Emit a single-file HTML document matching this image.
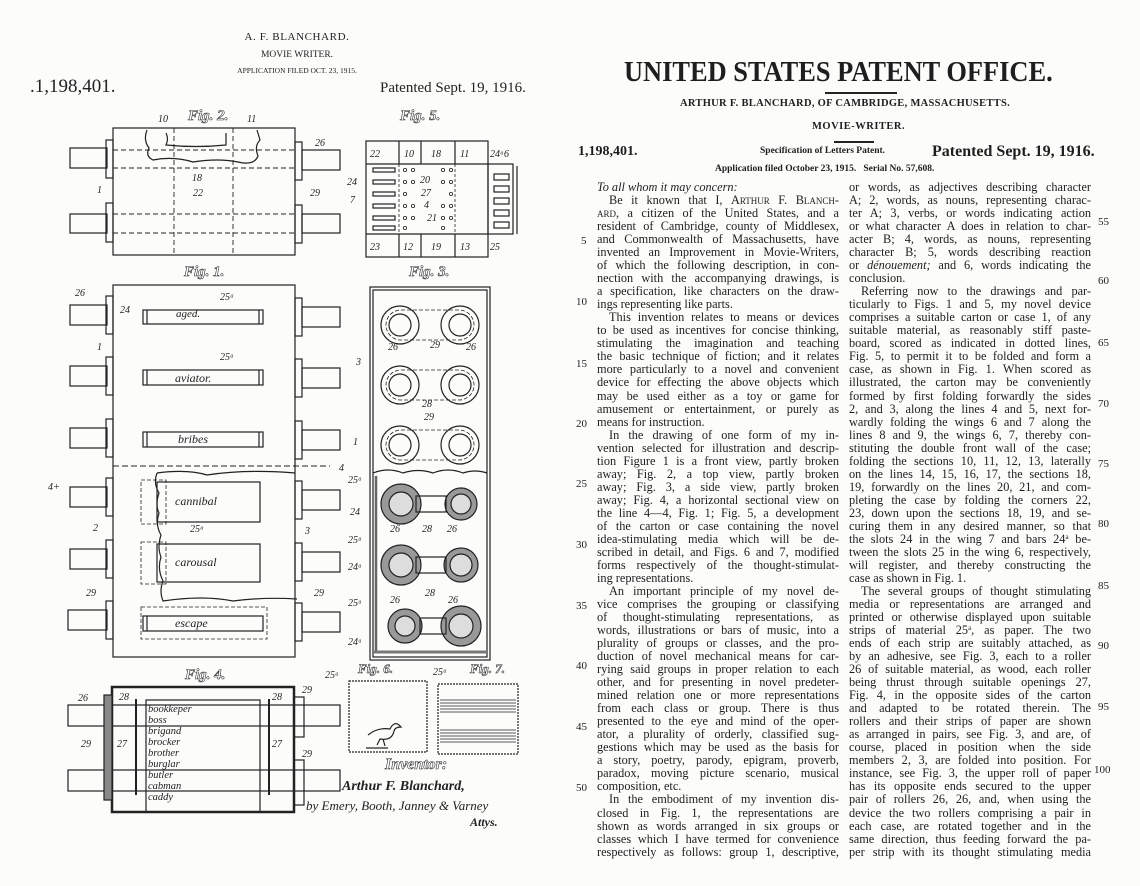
<!DOCTYPE html>
<html><head><meta charset="utf-8">
<style>
html,body{margin:0;padding:0;background:#fcfcfb;}
body{width:1140px;height:886px;position:relative;overflow:hidden;font-family:"Liberation Serif",serif;color:#1e1e1e;}
.a{position:absolute;white-space:nowrap;}
.col{position:absolute;top:181px;font-size:12.3px;line-height:13.04px;}
.col div{text-align:justify;text-align-last:justify;height:13.04px;overflow:hidden;white-space:nowrap;}
.col div.e{text-align-last:left;}
.col div.i{text-indent:12px;}
.num{position:absolute;font-size:11px;}
.sc{font-variant:small-caps;}
.sp{font-size:7px;position:relative;top:-4px;line-height:0;}
</style></head><body>

<!-- right page header -->
<div class="a" style="left:624px;top:56px;font-size:29px;font-weight:bold;transform:scaleX(0.91);transform-origin:0 0;">UNITED STATES PATENT OFFICE.</div>
<div class="a" style="left:825px;top:92px;width:72px;height:2px;background:#222;"></div>
<div class="a" style="left:680px;top:98px;font-size:10.5px;font-weight:bold;letter-spacing:0.3px;">ARTHUR F. BLANCHARD, OF CAMBRIDGE, MASSACHUSETTS.</div>
<div class="a" style="left:812px;top:121px;font-size:10.5px;font-weight:bold;letter-spacing:0.5px;">MOVIE-WRITER.</div>
<div class="a" style="left:834px;top:141px;width:40px;height:2px;background:#222;"></div>
<div class="a" style="left:578px;top:144px;font-size:14px;font-weight:bold;">1,198,401.</div>
<div class="a" style="left:760px;top:146px;font-size:9.5px;font-weight:bold;">Specification of Letters Patent.</div>
<div class="a" style="left:932px;top:143px;font-size:16px;font-weight:bold;">Patented Sept. 19, 1916.</div>
<div class="a" style="left:715px;top:164px;font-size:9.5px;font-weight:bold;">Application filed October 23, 1915.&nbsp;&nbsp; Serial No. 57,608.</div>

<div class="col" style="left:597px;width:242px;">
<div class="e" style="font-style:italic;">To all whom it may concern:</div>
<div class="i">Be it known that I, <span class="sc">Arthur F. Blanch-</span></div>
<div><span class="sc">ard</span>, a citizen of the United States, and a</div>
<div>resident of Cambridge, county of Middlesex,</div>
<div>and Commonwealth of Massachusetts, have</div>
<div>invented an Improvement in Movie-Writers,</div>
<div>of which the following description, in con-</div>
<div>nection with the accompanying drawings, is</div>
<div>a specification, like characters on the draw-</div>
<div class="e">ings representing like parts.</div>
<div class="i">This invention relates to means or devices</div>
<div>to be used as incentives for concise thinking,</div>
<div>stimulating the imagination and teaching</div>
<div>the basic technique of fiction; and it relates</div>
<div>more particularly to a novel and convenient</div>
<div>device for effecting the above objects which</div>
<div>may be used either as a toy or game for</div>
<div>amusement or entertainment, or purely as</div>
<div class="e">means for instruction.</div>
<div class="i">In the drawing of one form of my in-</div>
<div>vention selected for illustration and descrip-</div>
<div>tion Figure 1 is a front view, partly broken</div>
<div>away; Fig. 2, a top view, partly broken</div>
<div>away; Fig. 3, a side view, partly broken</div>
<div>away; Fig. 4, a horizontal sectional view on</div>
<div>the line 4—4, Fig. 1; Fig. 5, a development</div>
<div>of the carton or case containing the novel</div>
<div>idea-stimulating media which will be de-</div>
<div>scribed in detail, and Figs. 6 and 7, modified</div>
<div>forms respectively of the thought-stimulat-</div>
<div class="e">ing representations.</div>
<div class="i">An important principle of my novel de-</div>
<div>vice comprises the grouping or classifying</div>
<div>of thought-stimulating representations, as</div>
<div>words, illustrations or bars of music, into a</div>
<div>plurality of groups or classes, and the pro-</div>
<div>duction of novel mechanical means for car-</div>
<div>rying said groups in proper relation to each</div>
<div>other, and for presenting in novel predeter-</div>
<div>mined relation one or more representations</div>
<div>from each class or group. There is thus</div>
<div>presented to the eye and mind of the oper-</div>
<div>ator, a plurality of orderly, classified sug-</div>
<div>gestions which may be used as the basis for</div>
<div>a story, poetry, parody, epigram, proverb,</div>
<div>paradox, moving picture scenario, musical</div>
<div class="e">composition, etc.</div>
<div class="i">In the embodiment of my invention dis-</div>
<div>closed in Fig. 1, the representations are</div>
<div>shown as words arranged in six groups or</div>
<div>classes which I have termed for convenience</div>
<div>respectively as follows: group 1, descriptive,</div>
</div>

<div class="col" style="left:849px;width:242px;">
<div>or words, as adjectives describing character</div>
<div>A; 2, words, as nouns, representing charac-</div>
<div>ter A; 3, verbs, or words indicating action</div>
<div>or what character A does in relation to char-</div>
<div>acter B; 4, words, as nouns, representing</div>
<div>character B; 5, words describing reaction</div>
<div>or <i>dénouement;</i> and 6, words indicating the</div>
<div class="e">conclusion.</div>
<div class="i">Referring now to the drawings and par-</div>
<div>ticularly to Figs. 1 and 5, my novel device</div>
<div>comprises a suitable carton or case 1, of any</div>
<div>suitable material, as reasonably stiff paste-</div>
<div>board, scored as indicated in dotted lines,</div>
<div>Fig. 5, to permit it to be folded and form a</div>
<div>case, as shown in Fig. 1. When scored as</div>
<div>illustrated, the carton may be conveniently</div>
<div>formed by first folding forwardly the sides</div>
<div>2, and 3, along the lines 4 and 5, next for-</div>
<div>wardly folding the wings 6 and 7 along the</div>
<div>lines 8 and 9, the wings 6, 7, thereby con-</div>
<div>stituting the double front wall of the case;</div>
<div>folding the sections 10, 11, 12, 13, laterally</div>
<div>on the lines 14, 15, 16, 17, the sections 18,</div>
<div>19, forwardly on the lines 20, 21, and com-</div>
<div>pleting the case by folding the corners 22,</div>
<div>23, down upon the sections 18, 19, and se-</div>
<div>curing them in any desired manner, so that</div>
<div>the slots 24 in the wing 7 and bars 24<span class="sp">a</span> be-</div>
<div>tween the slots 25 in the wing 6, respectively,</div>
<div>will register, and thereby constructing the</div>
<div class="e">case as shown in Fig. 1.</div>
<div class="i">The several groups of thought stimulating</div>
<div>media or representations are arranged and</div>
<div>printed or otherwise displayed upon suitable</div>
<div>strips of material 25<span class="sp">a</span>, as paper. The two</div>
<div>ends of each strip are suitably attached, as</div>
<div>by an adhesive, see Fig. 3, each to a roller</div>
<div>26 of suitable material, as wood, each roller</div>
<div>being thrust through suitable openings 27,</div>
<div>Fig. 4, in the opposite sides of the carton</div>
<div>and adapted to be rotated therein. The</div>
<div>rollers and their strips of paper are shown</div>
<div>as arranged in pairs, see Fig. 3, and are, of</div>
<div>course, placed in position when the side</div>
<div>members 2, 3, are folded into position. For</div>
<div>instance, see Fig. 3, the upper roll of paper</div>
<div>has its opposite ends secured to the upper</div>
<div>pair of rollers 26, 26, and, when using the</div>
<div>device the two rollers comprising a pair in</div>
<div>each case, are rotated together and in the</div>
<div>same direction, thus feeding forward the pa-</div>
<div>per strip with its thought stimulating media</div>
</div>

<div class="num" style="left:581px;top:235px">5</div>
<div class="num" style="left:576px;top:296px">10</div>
<div class="num" style="left:576px;top:358px">15</div>
<div class="num" style="left:576px;top:418px">20</div>
<div class="num" style="left:576px;top:478px">25</div>
<div class="num" style="left:576px;top:539px">30</div>
<div class="num" style="left:576px;top:600px">35</div>
<div class="num" style="left:576px;top:660px">40</div>
<div class="num" style="left:576px;top:721px">45</div>
<div class="num" style="left:576px;top:782px">50</div>
<div class="num" style="left:1098px;top:216px">55</div>
<div class="num" style="left:1098px;top:275px">60</div>
<div class="num" style="left:1098px;top:337px">65</div>
<div class="num" style="left:1098px;top:398px">70</div>
<div class="num" style="left:1098px;top:458px">75</div>
<div class="num" style="left:1098px;top:518px">80</div>
<div class="num" style="left:1098px;top:580px">85</div>
<div class="num" style="left:1098px;top:640px">90</div>
<div class="num" style="left:1098px;top:701px">95</div>
<div class="num" style="left:1094px;top:764px">100</div>

<!-- left drawing sheet -->
<svg class="a" style="left:0;top:0" width="570" height="886" viewBox="0 0 570 886" font-family="Liberation Serif, serif">
<g fill="#222">
<text x="297" y="40" font-size="11" text-anchor="middle" letter-spacing="0.6">A. F. BLANCHARD.</text>
<text x="297" y="57" font-size="9.5" text-anchor="middle">MOVIE WRITER.</text>
<text x="297" y="73" font-size="7.5" text-anchor="middle">APPLICATION FILED OCT. 23, 1915.</text>
<text x="30" y="92" font-size="19">.1,198,401.</text>
<text x="380" y="92" font-size="15">Patented Sept. 19, 1916.</text>
</g>
<g fill="none" stroke="#222" stroke-width="1.2">
<!-- Fig 2 -->
<rect x="113" y="128" width="182" height="127"/>
<rect x="70" y="148" width="37" height="20"/><rect x="106" y="140" width="7" height="38"/>
<rect x="70" y="214" width="37" height="19"/><rect x="106" y="203" width="7" height="39"/>
<rect x="302" y="150" width="38" height="20"/><rect x="295" y="142" width="7" height="38"/>
<rect x="302" y="214" width="38" height="19"/><rect x="295" y="205" width="7" height="38"/>
<g stroke-dasharray="5,3" stroke-width="0.9">
<line x1="113" y1="150" x2="295" y2="150"/><line x1="113" y1="168" x2="295" y2="168"/>
<line x1="113" y1="214" x2="295" y2="214"/><line x1="113" y1="233" x2="295" y2="233"/>
<line x1="174" y1="128" x2="174" y2="255"/><line x1="233" y1="128" x2="233" y2="255"/>
</g>
<path d="M147 130 q-4 10 2 18 q-4 8 4 12 q20 -4 40 2 q25 -4 45 0 q16 4 20 -6 q-4 -10 2 -16 l-3 -10"/>
<path d="M166 133 q3 6 0 12 q30 3 60 0 l0 -12"/>
<!-- Fig 5 -->
<rect x="366" y="141" width="122" height="116"/>
<line x1="366" y1="164" x2="488" y2="164"/><line x1="366" y1="234" x2="488" y2="234"/>
<line x1="399" y1="141" x2="399" y2="164"/><line x1="421" y1="141" x2="421" y2="164"/><line x1="455" y1="141" x2="455" y2="164"/>
<line x1="399" y1="234" x2="399" y2="257"/><line x1="421" y1="234" x2="421" y2="257"/><line x1="455" y1="234" x2="455" y2="257"/>
<rect x="488" y="164" width="25" height="70"/><line x1="517" y1="166" x2="517" y2="234"/>
<g stroke-dasharray="3,2" stroke-width="0.8"><line x1="399" y1="164" x2="399" y2="234"/><line x1="455" y1="164" x2="455" y2="234"/></g>
<rect x="373" y="168" width="22" height="4"/><rect x="373" y="180" width="22" height="4"/><rect x="373" y="192" width="22" height="4"/><rect x="373" y="204" width="22" height="4"/><rect x="373" y="216" width="22" height="4"/><rect x="373" y="226" width="22" height="4"/>
<rect x="494" y="174" width="15" height="6"/><rect x="494" y="186" width="15" height="6"/><rect x="494" y="198" width="15" height="6"/><rect x="494" y="210" width="15" height="6"/><rect x="494" y="222" width="15" height="6"/>
<g stroke-width="0.8"><circle cx="405" cy="170" r="1.6"/><circle cx="413" cy="170" r="1.6"/><circle cx="405" cy="182" r="1.6"/><circle cx="413" cy="182" r="1.6"/><circle cx="405" cy="194" r="1.6"/><circle cx="405" cy="206" r="1.6"/><circle cx="413" cy="206" r="1.6"/><circle cx="405" cy="218" r="1.6"/><circle cx="413" cy="218" r="1.6"/><circle cx="405" cy="228" r="1.6"/>
<circle cx="443" cy="170" r="1.6"/><circle cx="451" cy="170" r="1.6"/><circle cx="443" cy="182" r="1.6"/><circle cx="451" cy="182" r="1.6"/><circle cx="451" cy="194" r="1.6"/><circle cx="443" cy="206" r="1.6"/><circle cx="451" cy="206" r="1.6"/><circle cx="443" cy="218" r="1.6"/><circle cx="451" cy="218" r="1.6"/><circle cx="443" cy="228" r="1.6"/></g>
<!-- Fig 1 -->
<rect x="113" y="285" width="182" height="372"/>
<rect x="70" y="305" width="37" height="20"/><rect x="106" y="296" width="7" height="38"/>
<rect x="70" y="366" width="37" height="20"/><rect x="106" y="357" width="7" height="38"/>
<rect x="70" y="428" width="37" height="20"/><rect x="106" y="419" width="7" height="38"/>
<rect x="70" y="487" width="37" height="20"/><rect x="106" y="478" width="7" height="38"/>
<rect x="70" y="549" width="37" height="20"/><rect x="106" y="540" width="7" height="38"/>
<rect x="68" y="610" width="39" height="20"/><rect x="106" y="601" width="7" height="38"/>
<rect x="302" y="307" width="38" height="20"/><rect x="295" y="298" width="7" height="38"/>
<rect x="302" y="368" width="38" height="20"/><rect x="295" y="359" width="7" height="38"/>
<rect x="302" y="430" width="38" height="20"/><rect x="295" y="421" width="7" height="38"/>
<rect x="302" y="490" width="38" height="20"/><rect x="295" y="481" width="7" height="38"/>
<rect x="302" y="552" width="38" height="20"/><rect x="295" y="543" width="7" height="38"/>
<rect x="302" y="612" width="38" height="20"/><rect x="295" y="603" width="7" height="38"/>
<rect x="143" y="310" width="120" height="14"/><line x1="147" y1="310" x2="147" y2="324"/><line x1="259" y1="310" x2="259" y2="324"/>
<rect x="143" y="370" width="120" height="15"/><line x1="147" y1="370" x2="147" y2="385"/><line x1="259" y1="370" x2="259" y2="385"/>
<rect x="143" y="432" width="120" height="15"/><line x1="147" y1="432" x2="147" y2="447"/><line x1="259" y1="432" x2="259" y2="447"/>
<line x1="113" y1="466" x2="330" y2="466" stroke-dasharray="6,3" stroke-width="0.9"/>
<path d="M157 473 q-4 10 2 20 q-4 12 0 20 q-4 12 2 22 q-4 12 0 22 q-4 12 2 24 q-4 10 0 20 q40 -6 70 0 q30 -4 64 -2 M157 473 q30 -4 50 2 q40 -6 88 -2"/>
<rect x="157" y="482" width="103" height="40"/><rect x="157" y="544" width="103" height="38"/>
<rect x="143" y="616" width="120" height="15"/><line x1="147" y1="616" x2="147" y2="631"/>
<rect x="141" y="607" width="126" height="32" stroke-dasharray="4,2" stroke-width="0.8"/>
<rect x="141" y="480" width="25" height="44" stroke-dasharray="4,2" stroke-width="0.8"/>
<rect x="141" y="542" width="25" height="42" stroke-dasharray="4,2" stroke-width="0.8"/>
<!-- Fig 3 -->
<rect x="370" y="287" width="120" height="373"/><rect x="373" y="290" width="114" height="367"/>
<g>
<circle cx="400" cy="325" r="19"/><circle cx="400" cy="325" r="11"/><circle cx="460" cy="325" r="19"/><circle cx="460" cy="325" r="11"/>
<circle cx="400" cy="385" r="19"/><circle cx="400" cy="385" r="11"/><circle cx="460" cy="385" r="19"/><circle cx="460" cy="385" r="11"/>
<circle cx="400" cy="445" r="19"/><circle cx="400" cy="445" r="11"/><circle cx="460" cy="445" r="19"/><circle cx="460" cy="445" r="11"/>
<g stroke-dasharray="4,2" stroke-width="0.8"><rect x="386" y="310" width="88" height="30" rx="15"/><rect x="386" y="370" width="88" height="30" rx="15"/><rect x="386" y="430" width="88" height="30" rx="15"/></g>
<path d="M373 473 q15 -6 30 0 q15 -5 30 0 q15 -6 30 0 q12 -4 24 0"/>
<g fill="#999"><circle cx="401" cy="504" r="20"/><circle cx="461" cy="504" r="16"/><circle cx="401" cy="565" r="20"/><circle cx="461" cy="565" r="17"/><circle cx="405" cy="626" r="17"/><circle cx="461" cy="626" r="20"/></g>
<g fill="#ddd"><circle cx="401" cy="504" r="12"/><circle cx="461" cy="504" r="10"/><circle cx="401" cy="565" r="12"/><circle cx="461" cy="565" r="11"/><circle cx="405" cy="626" r="10"/><circle cx="461" cy="626" r="12"/></g>
<rect x="416" y="496" width="30" height="16"/><rect x="416" y="557" width="30" height="16"/><rect x="420" y="618" width="26" height="16"/>
<line x1="376" y1="476" x2="376" y2="652" stroke-width="2.5" stroke="#666"/><line x1="373" y1="652" x2="487" y2="652" stroke-width="3" stroke="#777"/>
</g>
<!-- Fig 4 -->
<rect x="112" y="687" width="182" height="125" stroke-width="2.5"/>
<rect x="146" y="700" width="114" height="112"/>
<rect x="68" y="705" width="272" height="21"/><rect x="68" y="770" width="272" height="21"/>
<line x1="136" y1="699" x2="136" y2="795" stroke-width="2"/><line x1="269" y1="699" x2="269" y2="795" stroke-width="2"/>
<rect x="104" y="695" width="8" height="105" fill="#888"/>
<rect x="294" y="697" width="10" height="40"/><rect x="294" y="760" width="10" height="45"/>
<!-- Fig 6, 7 -->
<path d="M349 681 h78 v71 h-78 z" stroke-dasharray="2,1"/>
<path d="M438 684 h80 v70 h-80 z" stroke-dasharray="2,1"/>
<g stroke-width="0.8"><line x1="440" y1="700" x2="516" y2="700"/><line x1="440" y1="703" x2="516" y2="703"/><line x1="440" y1="706" x2="516" y2="706"/><line x1="440" y1="709" x2="516" y2="709"/><line x1="440" y1="712" x2="516" y2="712"/>
<line x1="440" y1="730" x2="516" y2="730"/><line x1="440" y1="733" x2="516" y2="733"/><line x1="440" y1="736" x2="516" y2="736"/><line x1="440" y1="739" x2="516" y2="739"/><line x1="440" y1="742" x2="516" y2="742"/></g>
<path d="M368 735 q10 -8 22 -6 q4 -8 9 -4 l2 2 q-6 0 -7 4 q-2 10 -14 8 l-3 6 m6 -6 l2 7 M366 748 h22" />
</g>
<g fill="#222" font-style="italic" font-size="12">
<text x="176" y="317" font-size="11">aged.</text>
<text x="175" y="382">aviator.</text>
<text x="178" y="443">bribes</text>
<text x="175" y="505">cannibal</text>
<text x="175" y="566">carousal</text>
<text x="175" y="627">escape</text>
<g font-size="10.5"><text x="148" y="712">bookkeper</text><text x="148" y="723">boss</text><text x="148" y="734">brigand</text><text x="148" y="745">brocker</text><text x="148" y="756">brother</text><text x="148" y="767">burglar</text><text x="148" y="778">butler</text><text x="148" y="789">cabman</text><text x="148" y="800">caddy</text></g>
</g>
<g fill="#fff" stroke="#333" stroke-width="0.6" font-style="italic" font-weight="bold" font-size="15">
<text x="188" y="120">Fig. 2.</text><text x="400" y="120">Fig. 5.</text>
<text x="184" y="276">Fig. 1.</text><text x="409" y="276">Fig. 3.</text>
<text x="185" y="679">Fig. 4.</text><text x="358" y="673" font-size="13">Fig. 6.</text><text x="470" y="673" font-size="13">Fig. 7.</text>
<text x="385" y="769" font-size="16">Inventor:</text>
</g>
<g fill="#222" font-style="italic" font-size="10">
<text x="158" y="122">10</text><text x="247" y="122">11</text><text x="315" y="146">26</text><text x="310" y="196">29</text><text x="97" y="193">1</text><text x="193" y="196">22</text><text x="192" y="181">18</text>
<text x="370" y="157">22</text><text x="404" y="157">10</text><text x="431" y="157">18</text><text x="460" y="157">11</text><text x="490" y="157">24ᵃ6</text>
<text x="347" y="185">24</text><text x="350" y="203">7</text><text x="420" y="183">20</text><text x="421" y="196">27</text><text x="424" y="208">4</text><text x="427" y="221">21</text><text x="370" y="250">23</text><text x="403" y="250">12</text><text x="431" y="250">19</text><text x="460" y="250">13</text><text x="490" y="250">25</text>
<text x="75" y="296">26</text><text x="120" y="313">24</text><text x="220" y="300">25ᵃ</text><text x="220" y="360">25ᵃ</text><text x="97" y="350">1</text>
<text x="339" y="471">4</text><text x="48" y="490">4+</text><text x="93" y="531">2</text><text x="305" y="534">3</text><text x="190" y="532">25ᵃ</text><text x="86" y="596">29</text><text x="314" y="596">29</text>
<text x="356" y="365">3</text><text x="353" y="445">1</text><text x="388" y="350">26</text><text x="430" y="348">29</text><text x="466" y="350">26</text><text x="422" y="407">28</text><text x="424" y="420">29</text>
<text x="348" y="483">25ᵃ</text><text x="350" y="515">24</text><text x="390" y="532">26</text><text x="422" y="532">28</text><text x="447" y="532">26</text>
<text x="348" y="543">25ᵃ</text><text x="348" y="570">24ᵃ</text><text x="425" y="596">28</text><text x="348" y="606">25ᵃ</text><text x="390" y="603">26</text><text x="448" y="603">26</text><text x="348" y="645">24ᵃ</text>
<text x="78" y="701">26</text><text x="119" y="700">28</text><text x="272" y="700">28</text><text x="302" y="693">29</text><text x="81" y="747">29</text><text x="117" y="747">27</text><text x="272" y="747">27</text><text x="302" y="757">29</text>
<text x="325" y="678">25ᵃ</text><text x="433" y="675">25ᵃ</text>
</g>
<g fill="#222" font-style="italic" font-family="Liberation Serif, serif">
<text x="342" y="790" font-size="14" font-weight="bold">Arthur F. Blanchard,</text>
<text x="306" y="810" font-size="13">by Emery, Booth, Janney &amp; Varney</text>
<text x="470" y="826" font-size="12" font-weight="bold">Attys.</text>
</g>
</svg>
</body></html>
